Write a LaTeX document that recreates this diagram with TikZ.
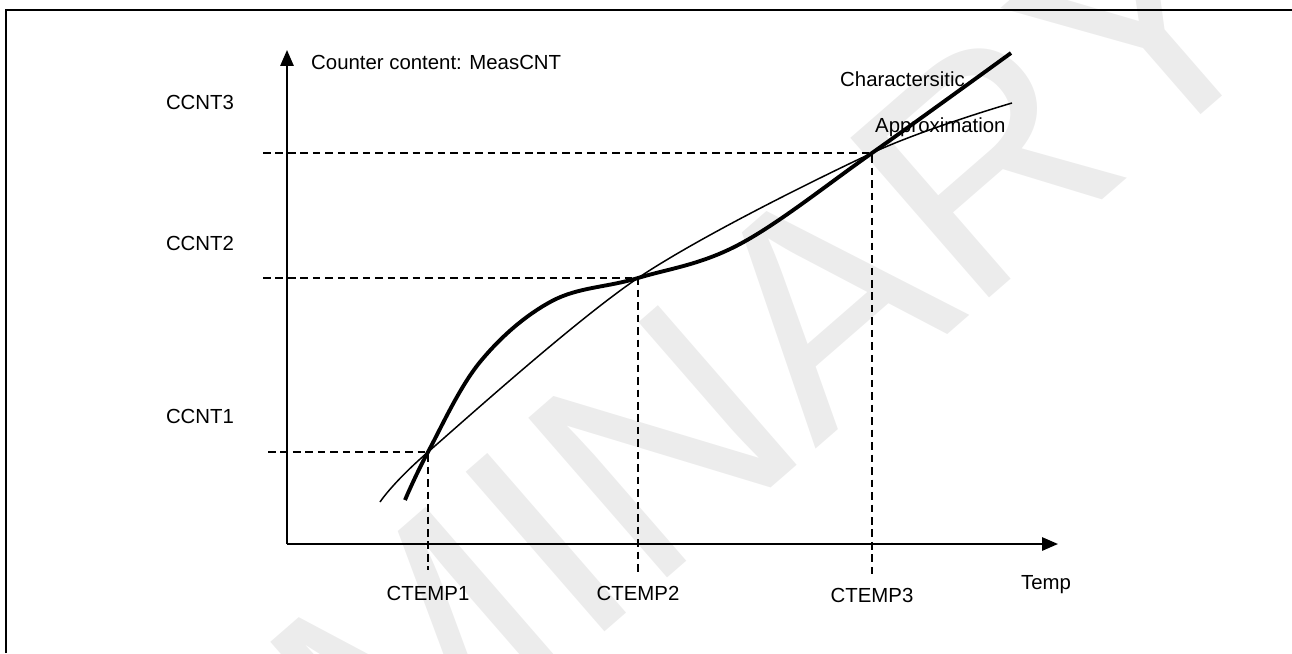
\documentclass[tikz,border=0pt]{standalone}
\usepackage{fontspec}
\setmainfont{Liberation Sans}
\usetikzlibrary{arrows.meta}

\begin{document}
\begin{tikzpicture}[x=0.02cm, y=-0.02cm, font=\fontsize{11.6}{13.9}\selectfont,
  axisline/.style={line width=1.1pt, -{Triangle[length=9pt,width=7.5pt]}},
  helpline/.style={line width=0.75pt, dash pattern=on 4.3pt off 2.8pt},
  charline/.style={line width=2.2pt},
  approxline/.style={line width=0.85pt}]
\useasboundingbox (0,0) rectangle (1292,653);
% watermark
\begin{scope}
\clip (0,0) rectangle (1292,653);
\node[text=gray!15, rotate=41, font=\fontsize{175}{175}\selectfont] (wmark) at (435,640) {PRELIMINARY};
\end{scope}
\draw[line width=1.6pt] (6,653) -- (6,10) -- (1292,10); % frame
% axes
\coordinate (origin) at (287,544);
\coordinate (ytip) at (287,50);
\coordinate (xtip) at (1058,544);
\draw[axisline] (origin) -- (ytip);
\draw[axisline] (origin) -- (xtip);
\node[anchor=west] (ylabel) at (305,62) {Counter content: MeasCNT};
\node (xlabel) at (1046,585) {Temp};
% calibration points
\coordinate (p1) at (428,452);
\coordinate (p2) at (638,278);
\coordinate (p3) at (872,153);
\draw[helpline] (268,452) -- (p1) -- (428,570);
\draw[helpline] (263,278) -- (p2) -- (638,576);
\draw[helpline] (263,153) -- (p3) -- (872,576);
\node (ccnt1) at (200,416) {CCNT1};
\node (ccnt2) at (200,243) {CCNT2};
\node (ccnt3) at (200,102) {CCNT3};
\node (ctemp1) at (428,593) {CTEMP1};
\node (ctemp2) at (638,593) {CTEMP2};
\node (ctemp3) at (872,595) {CTEMP3};
% curves
\draw[approxline] plot[smooth, tension=0.5] coordinates {(380,502) (p1) (p2) (p3) (1012,103)};
\draw[charline] plot[smooth, tension=0.6] coordinates {(405,500) (p1) (480,362) (552,301) (p2) (740,244) (p3) (1011,53)};
\node[anchor=west] (charlabel) at (834,79) {Charactersitic};
\node[anchor=west] (approxlabel) at (869,127) {Approximation};
\end{tikzpicture}
\end{document}
